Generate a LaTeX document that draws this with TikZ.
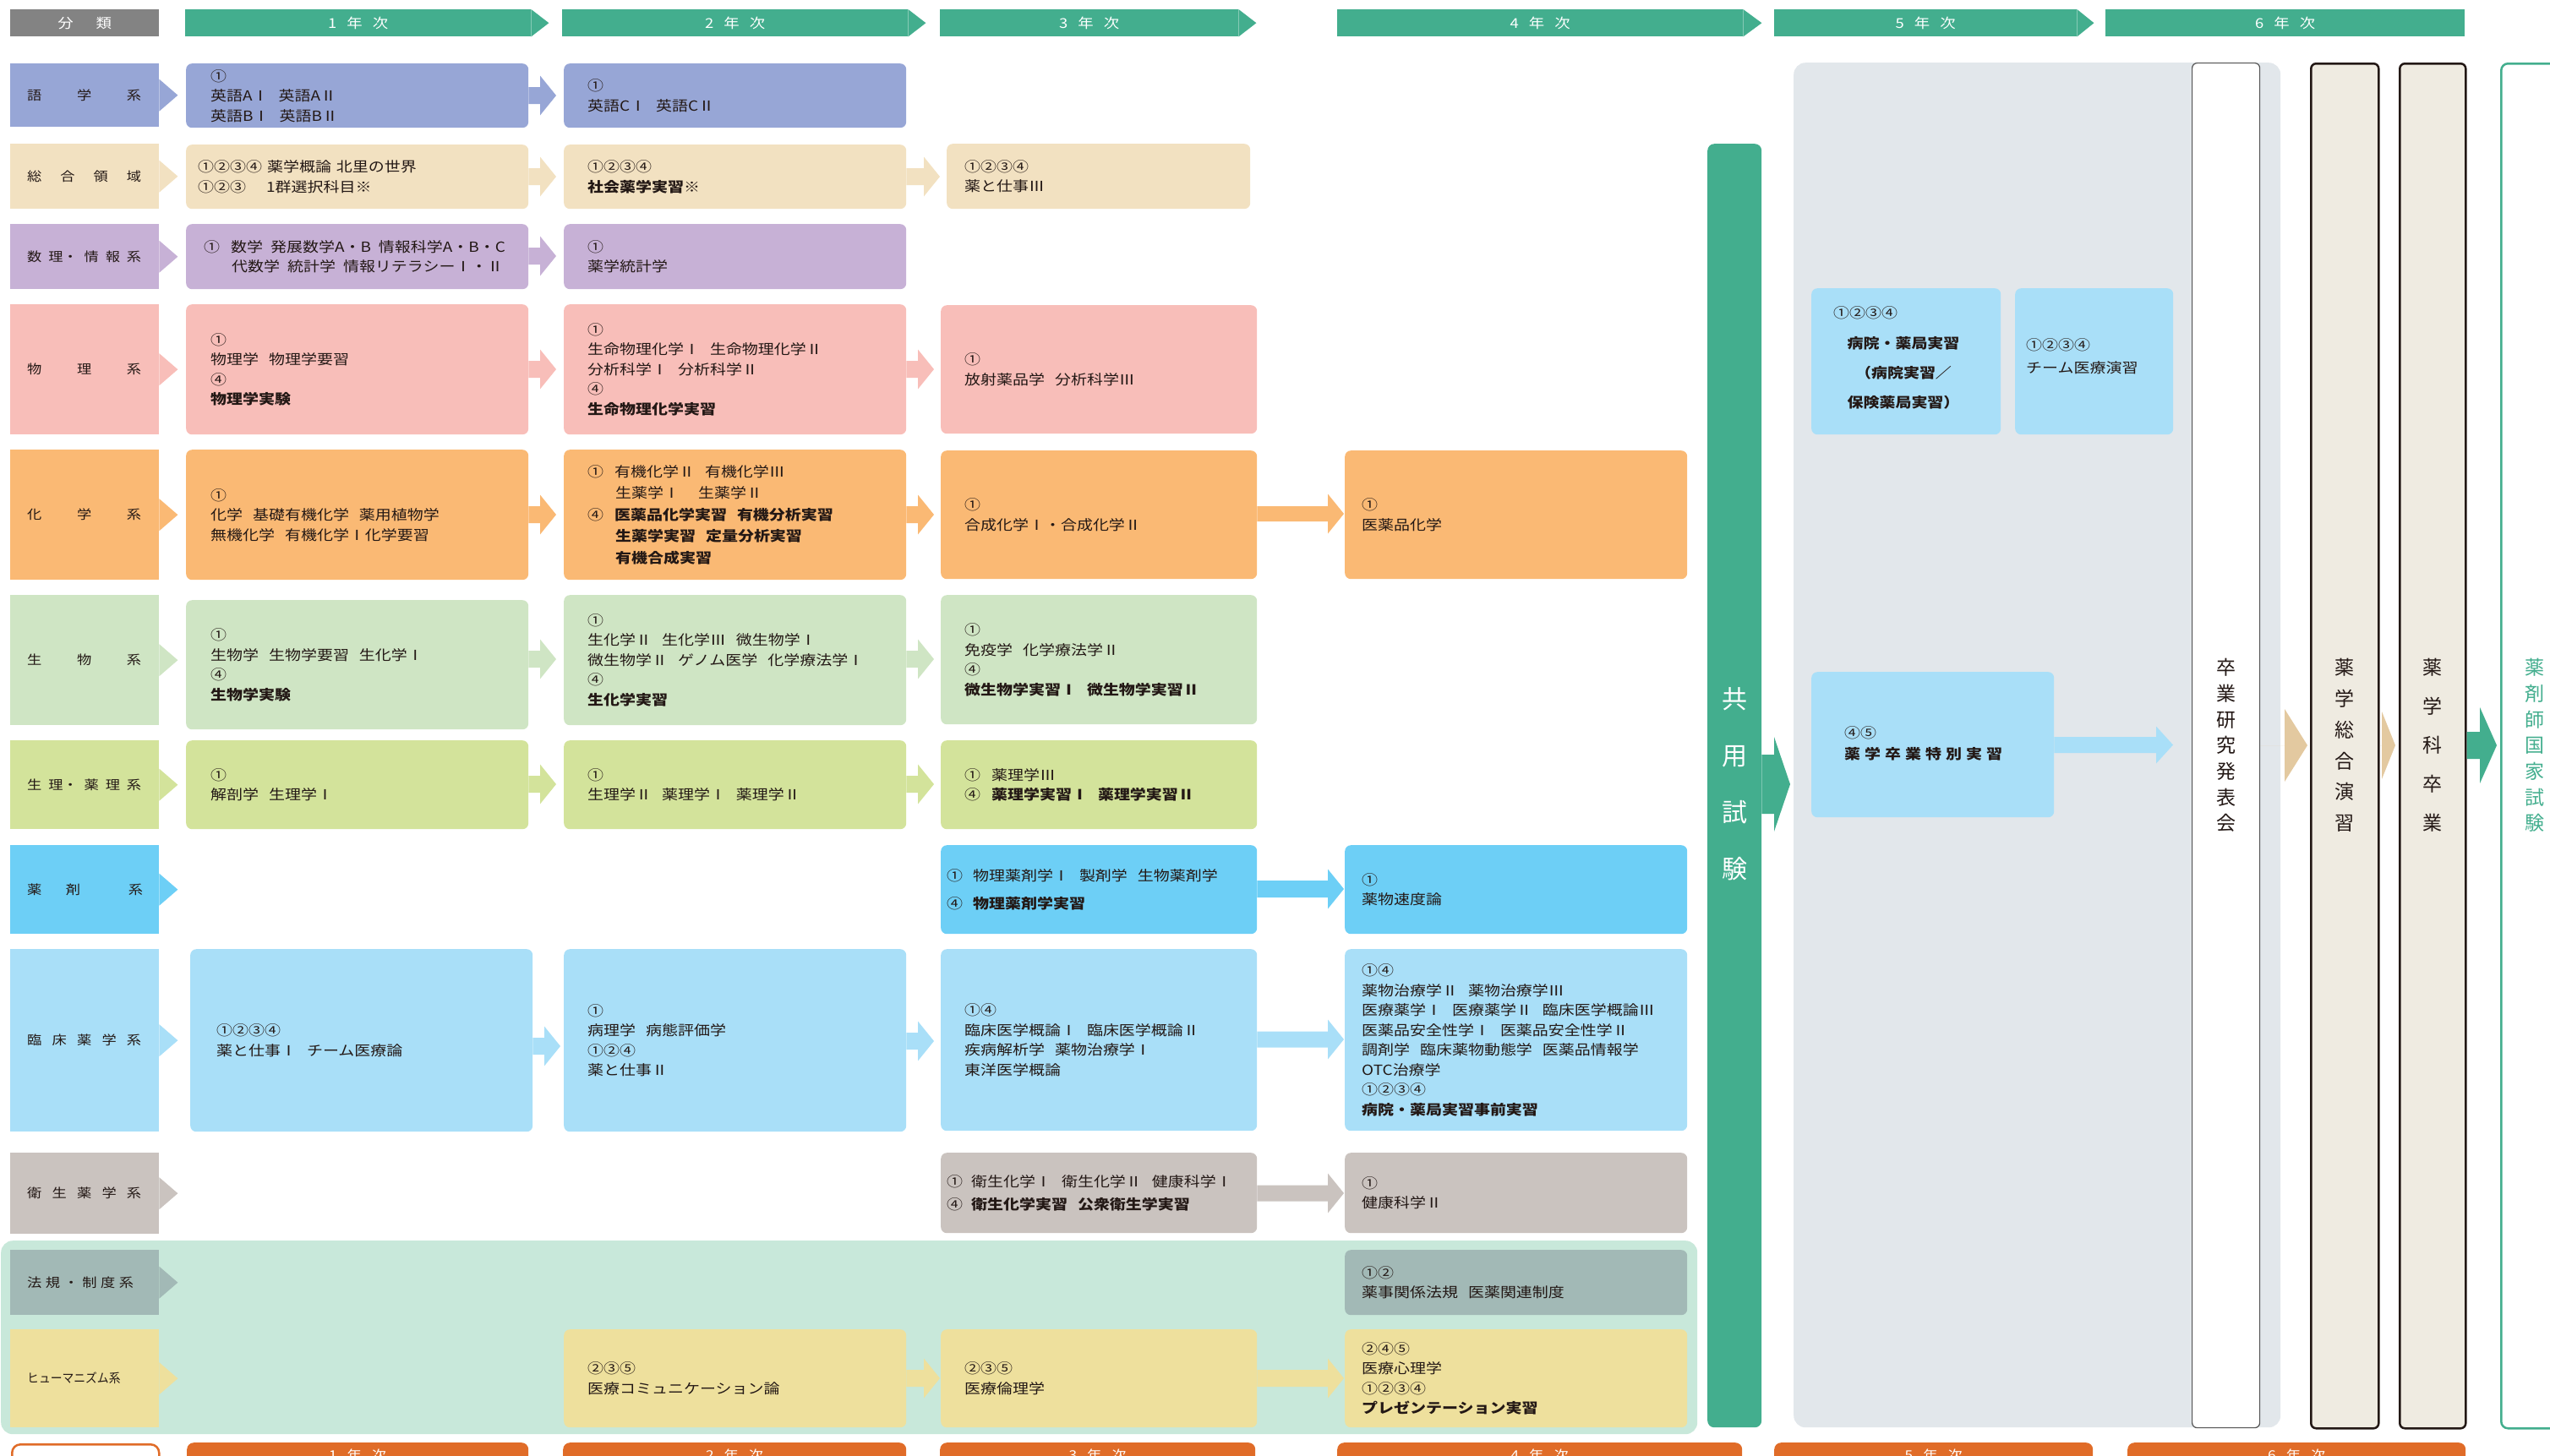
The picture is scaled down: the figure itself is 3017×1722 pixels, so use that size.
\documentclass[tikz,border=0pt]{standalone}
\usepackage{fontspec}
\usepackage{graphicx}
\setmainfont{Noto Sans CJK JP}[FakeStretch=1.15]
\newfontfamily\vjp{Noto Sans CJK JP}
\usetikzlibrary{calc}
\definecolor{txt}{HTML}{231815}
\definecolor{hgreen}{HTML}{43AE8E}
\definecolor{hgray}{HTML}{838383}
\definecolor{orng}{HTML}{E06C28}
\definecolor{cLang}{HTML}{97A6D6}
\definecolor{cGen}{HTML}{F2E1C1}
\definecolor{cMath}{HTML}{C7B1D6}
\definecolor{cPhys}{HTML}{F8BEB9}
\definecolor{cChem}{HTML}{FAB974}
\definecolor{cBio}{HTML}{CFE5C4}
\definecolor{cPhar}{HTML}{D3E39B}
\definecolor{cDrug}{HTML}{6DCFF6}
\definecolor{cClin}{HTML}{A9DFF8}
\definecolor{cHyg}{HTML}{CAC3BF}
\definecolor{cLaw}{HTML}{A2B9B6}
\definecolor{cHum}{HTML}{EEE09D}
\definecolor{gpanel}{HTML}{C8E8DA}
\definecolor{ybg}{HTML}{E2E7EB}
\definecolor{beig}{HTML}{EFEBE1}
\definecolor{sgray}{HTML}{555555}
\definecolor{tanarr}{HTML}{E3C9A0}

\newcommand\mkbox[7]{%
  \pgfmathsetmacro\bw{#5-#3}\pgfmathsetmacro\bh{#6-#4}%
  \node[#2, minimum width=\bw pt, minimum height=\bh pt, anchor=north west] (#1) at (#3,#4) {#7};}
\newcommand\course[8]{%
  \mkbox{#1}{cb, fill=#2}{#3}{#4}{#5}{#6}{}%
  \node[tx, anchor=west] (#1t) at ([xshift=#7pt]#1.west) {#8};}
\newcommand\cat[5]{%
  \mkbox{#1}{fill=#2, inner sep=0pt}{12}{#3}{188}{#4}{}%
  \fill[#2] ([yshift=19pt]#1.east) -- ([xshift=22pt]#1.east) -- ([yshift=-19pt]#1.east) -- cycle;
  \node[ctx, anchor=west] (#1t) at ([xshift=20pt]#1.west) {#5};}
% color, from, to, y, shaft half, head half, head length, gap
\newcommand\barrow[8]{%
  \fill[#1] let \p1=(#2.east), \p2=(#3.west), \p3=(0,#4) in
  (\x1,\y3+#5pt) -- (\x2-#8pt-#7pt,\y3+#5pt) -- (\x2-#8pt-#7pt,\y3+#6pt) -- (\x2-#8pt,\y3)
  -- (\x2-#8pt-#7pt,\y3-#6pt) -- (\x2-#8pt-#7pt,\y3-#5pt) -- (\x1,\y3-#5pt) -- cycle;}
\newcommand\arrA[5]{\barrow{#1}{#2}{#3}{#4}{10}{23.5}{19}{#5}}
\newcommand\gp{\hspace{12pt}}

\begin{document}
\begin{tikzpicture}[x=1pt,y=-1pt,
  cb/.style={rounded corners=7pt, inner sep=0pt},
  tx/.style={align=left, inner sep=0pt, text=txt, font=\fontsize{16.5}{23.5}\selectfont},
  ctx/.style={inner sep=0pt, text=txt, font=\fontsize{15}{18}\selectfont},
  hdr/.style={inner sep=0pt, text=white, font=\fontsize{16}{18}\selectfont},
  vt/.style={align=center, inner sep=0pt},
  bot/.style={fill=orng, text=white, rounded corners=8pt, inner sep=0pt, font=\fontsize{15}{18}\selectfont}]
\useasboundingbox (0,0) rectangle (3017,1722);
\clip (0,0) rectangle (3017,1722);

% background panels
\mkbox{gp}{fill=gpanel, rounded corners=14pt, inner sep=0pt}{1}{1468}{2008}{1697}{}
\mkbox{ybgbox}{fill=ybg, rounded corners=14pt, inner sep=0pt}{2122}{74}{2698}{1689}{}

% headers
\mkbox{h0}{hdr, fill=hgray}{12}{11}{188}{43}{分\hspace{27pt}類}
\mkbox{h1}{hdr, fill=hgreen}{219}{11}{628}{43}{1\hspace{12pt}年\hspace{12pt}次}
\fill[hgreen] (h1.north east) -- ([xshift=21pt]h1.east) -- (h1.south east) -- cycle;
\mkbox{h2}{hdr, fill=hgreen}{665}{11}{1074}{43}{2\hspace{12pt}年\hspace{12pt}次}
\fill[hgreen] (h2.north east) -- ([xshift=21pt]h2.east) -- (h2.south east) -- cycle;
\mkbox{h3}{hdr, fill=hgreen}{1112}{11}{1465}{43}{3\hspace{12pt}年\hspace{12pt}次}
\fill[hgreen] (h3.north east) -- ([xshift=21pt]h3.east) -- (h3.south east) -- cycle;
\mkbox{h4}{hdr, fill=hgreen}{1582}{11}{2062}{43}{4\hspace{12pt}年\hspace{12pt}次}
\fill[hgreen] (h4.north east) -- ([xshift=22pt]h4.east) -- (h4.south east) -- cycle;
\mkbox{h5}{hdr, fill=hgreen}{2099}{11}{2457}{43}{5\hspace{12pt}年\hspace{12pt}次}
\fill[hgreen] (h5.north east) -- ([xshift=20pt]h5.east) -- (h5.south east) -- cycle;
\mkbox{h6}{hdr, fill=hgreen}{2491}{11}{2916}{43}{6\hspace{12pt}年\hspace{12pt}次}

% categories
\cat{k1}{cLang}{75}{150}{\makebox[135pt]{語\hfill 学\hfill 系}}
\cat{k2}{cGen}{170}{247}{\makebox[135pt]{総\hfill 合\hfill 領\hfill 域}}
\cat{k3}{cMath}{265}{342}{\makebox[135pt]{数\hfill 理・\hfill 情\hfill 報\hfill 系}}
\cat{k4}{cPhys}{360}{514}{\makebox[135pt]{物\hfill 理\hfill 系}}
\cat{k5}{cChem}{532}{686}{\makebox[135pt]{化\hfill 学\hfill 系}}
\cat{k6}{cBio}{704}{858}{\makebox[135pt]{生\hfill 物\hfill 系}}
\cat{k7}{cPhar}{876}{981}{\makebox[135pt]{生\hfill 理・\hfill 薬\hfill 理\hfill 系}}
\cat{k8}{cDrug}{1000}{1105}{\makebox[137pt]{薬\hfill 剤\hfill\hfill 系}}
\cat{k9}{cClin}{1123}{1339}{\makebox[135pt]{臨\hfill 床\hfill 薬\hfill 学\hfill 系}}
\cat{k10}{cHyg}{1364}{1460}{\makebox[135pt]{衛\hfill 生\hfill 薬\hfill 学\hfill 系}}
\cat{k11}{cLaw}{1479}{1556}{\makebox[126pt]{法\hfill 規\hfill ・\hfill 制\hfill 度\hfill 系}}
\cat{k12}{cHum}{1573}{1689}{\scalebox{0.8}[1]{ヒューマニズム系}}

% row 1
\course{r1a}{cLang}{220}{75}{625}{151}{29}{①\\英語AⅠ\gp 英語AⅡ\\英語BⅠ\gp 英語BⅡ}
\course{r1b}{cLang}{667}{75}{1072}{151}{28}{①\\英語CⅠ\gp 英語CⅡ}
\arrA{cLang}{r1a}{r1b}{113}{9}
% row 2
\course{r2a}{cGen}{220}{171}{625}{247}{14}{①②③④\hspace{6pt}薬学概論\hspace{6pt}北里の世界\\①②③\hspace{24pt}1群選択科目※}
\course{r2b}{cGen}{667}{171}{1072}{247}{28}{①②③④\\\textbf{社会薬学実習※}}
\course{r2c}{cGen}{1120}{170}{1479}{247}{21}{①②③④\\薬と仕事Ⅲ}
\arrA{cGen}{r2a}{r2b}{209}{9}
\arrA{cGen}{r2b}{r2c}{209}{8}
% row 3
\course{r3a}{cMath}{220}{265}{625}{342}{21}{①\hspace{13pt}数学\hspace{9pt}発展数学A・B\hspace{9pt}情報科学A・B・C\\\hspace*{33pt}代数学\hspace{9pt}統計学\hspace{9pt}情報リテラシーⅠ・Ⅱ}
\course{r3b}{cMath}{667}{265}{1072}{342}{28}{①\\薬学統計学}
\arrA{cMath}{r3a}{r3b}{303}{9}
% row 4
\course{r4a}{cPhys}{220}{360}{625}{514}{29}{①\\物理学\gp 物理学要習\\④\\\textbf{物理学実験}}
\course{r4b}{cPhys}{667}{360}{1072}{514}{28}{①\\生命物理化学Ⅰ\gp 生命物理化学Ⅱ\\分析科学Ⅰ\gp 分析科学Ⅱ\\④\\\textbf{生命物理化学実習}}
\course{r4c}{cPhys}{1113}{361}{1487}{513}{28}{①\\放射薬品学\gp 分析科学Ⅲ}
\arrA{cPhys}{r4a}{r4b}{437}{9}
\arrA{cPhys}{r4b}{r4c}{437}{8}
% row 5
\course{r5a}{cChem}{220}{532}{625}{686}{29}{①\\化学\gp 基礎有機化学\gp 薬用植物学\\無機化学\gp 有機化学Ⅰ化学要習}
\course{r5b}{cChem}{667}{532}{1072}{686}{28}{①\hspace{13pt}有機化学Ⅱ\gp 有機化学Ⅲ\\[2pt]\hspace*{33pt}生薬学Ⅰ\hspace{22pt}生薬学Ⅱ\\[2pt]④\hspace{13pt}\textbf{医薬品化学実習\gp 有機分析実習}\\[2pt]\hspace*{33pt}\textbf{生薬学実習\gp 定量分析実習}\\[2pt]\hspace*{33pt}\textbf{有機合成実習}}
\course{r5c}{cChem}{1113}{533}{1487}{685}{28}{①\\合成化学Ⅰ・合成化学Ⅱ}
\course{r5d}{cChem}{1591}{533}{1996}{685}{20}{①\\医薬品化学}
\arrA{cChem}{r5a}{r5b}{609}{9}
\arrA{cChem}{r5b}{r5c}{609}{8}
\barrow{cChem}{r5c}{r5d}{608}{9}{23.5}{19}{1}
% row 6
\course{r6a}{cBio}{220}{710}{625}{863}{29}{①\\生物学\gp 生物学要習\gp 生化学Ⅰ\\④\\\textbf{生物学実験}}
\course{r6b}{cBio}{667}{704}{1072}{858}{28}{①\\生化学Ⅱ\gp 生化学Ⅲ\gp 微生物学Ⅰ\\微生物学Ⅱ\gp ゲノム医学\gp 化学療法学Ⅰ\\④\\\textbf{生化学実習}}
\course{r6c}{cBio}{1113}{704}{1487}{857}{28}{①\\免疫学\gp 化学療法学Ⅱ\\④\\\textbf{微生物学実習Ⅰ\gp 微生物学実習Ⅱ}}
\arrA{cBio}{r6a}{r6b}{780}{9}
\arrA{cBio}{r6b}{r6c}{780}{8}
% row 7
\course{r7a}{cPhar}{220}{876}{625}{981}{29}{①\\解剖学\gp 生理学Ⅰ}
\course{r7b}{cPhar}{667}{876}{1072}{981}{28}{①\\生理学Ⅱ\gp 薬理学Ⅰ\gp 薬理学Ⅱ}
\course{r7c}{cPhar}{1113}{876}{1487}{981}{28}{①\hspace{13pt}薬理学Ⅲ\\④\hspace{13pt}\textbf{薬理学実習Ⅰ\gp 薬理学実習Ⅱ}}
\arrA{cPhar}{r7a}{r7b}{928}{9}
\arrA{cPhar}{r7b}{r7c}{928}{8}
% row 8
\course{r8c}{cDrug}{1113}{1000}{1487}{1105}{7}{①\hspace{12pt}物理薬剤学Ⅰ\gp 製剤学\gp 生物薬剤学\\[10pt]④\hspace{12pt}\textbf{物理薬剤学実習}}
\course{r8d}{cDrug}{1591}{1000}{1996}{1105}{20}{①\\薬物速度論}
\barrow{cDrug}{r8c}{r8d}{1052}{10}{23.5}{19}{1}
% row 9
\course{r9a}{cClin}{225}{1123}{630}{1339}{31}{①②③④\\薬と仕事Ⅰ\gp チーム医療論}
\course{r9b}{cClin}{667}{1123}{1072}{1339}{28}{①\\病理学\gp 病態評価学\\①②④\\薬と仕事Ⅱ}
\course{r9c}{cClin}{1113}{1123}{1487}{1338}{28}{①④\\臨床医学概論Ⅰ\gp 臨床医学概論Ⅱ\\疾病解析学\gp 薬物治療学Ⅰ\\東洋医学概論}
\course{r9d}{cClin}{1591}{1123}{1996}{1338}{20}{①④\\薬物治療学Ⅱ\gp 薬物治療学Ⅲ\\医療薬学Ⅰ\gp 医療薬学Ⅱ\gp 臨床医学概論Ⅲ\\医薬品安全性学Ⅰ\gp 医薬品安全性学Ⅱ\\調剤学\gp 臨床薬物動態学\gp 医薬品情報学\\OTC治療学\\①②③④\\\textbf{病院・薬局実習事前実習}}
\arrA{cClin}{r9a}{r9b}{1238}{4}
\arrA{cClin}{r9b}{r9c}{1232}{8}
\barrow{cClin}{r9c}{r9d}{1230}{9.5}{23.5}{19}{1}
% row 10
\course{r10c}{cHyg}{1113}{1364}{1487}{1459}{7}{①\hspace{10pt}衛生化学Ⅰ\gp 衛生化学Ⅱ\gp 健康科学Ⅰ\\[3pt]④\hspace{10pt}\textbf{衛生化学実習\gp 公衆衛生学実習}}
\course{r10d}{cHyg}{1591}{1364}{1996}{1459}{20}{①\\健康科学Ⅱ}
\barrow{cHyg}{r10c}{r10d}{1412}{9.5}{23.5}{19}{1}
% row 11
\course{r11d}{cLaw}{1591}{1479}{1996}{1556}{20}{①②\\薬事関係法規\gp 医薬関連制度}
% row 12
\course{r12b}{cHum}{667}{1573}{1072}{1689}{28}{②③⑤\\医療コミュニケーション論}
\course{r12c}{cHum}{1113}{1573}{1487}{1689}{28}{②③⑤\\医療倫理学}
\course{r12d}{cHum}{1591}{1573}{1996}{1689}{20}{②④⑤\\医療心理学\\①②③④\\\textbf{プレゼンテーション実習}}
\barrow{cHum}{r12b}{r12c}{1631}{10}{23.5}{19}{1}
\barrow{cHum}{r12c}{r12d}{1631}{10}{23.5}{19}{1}

% common exam bar
\mkbox{kyo}{fill=hgreen, rounded corners=8pt, inner sep=0pt}{2020}{170}{2084}{1689}{}
\node[vt, text=white, font=\vjp\fontsize{30}{67}\selectfont] (kyot) at (kyo.center |- 0,928) {共\\用\\試\\験};
\barrow{hgreen}{kyo}{ybgbox}{928}{35}{56}{19}{4}

% year 5 boxes
\mkbox{p1}{cb, fill=cClin}{2143}{341}{2367}{514}{}
\node[tx, anchor=west] (p1a) at (2169,370) {①②③④};
\node[tx, align=center, font=\fontsize{16.5}{35}\selectfont] (p1b) at (2252,441) {\textbf{病院・薬局実習}\\\textbf{（病院実習／}\\\textbf{保険薬局実習）}};
\mkbox{p2}{cb, fill=cClin}{2384}{341}{2571}{514}{}
\node[tx, anchor=west, font=\fontsize{16.5}{27}\selectfont] (p2t) at ([xshift=13pt]p2.west |- 0,422) {①②③④\\チーム医療演習};
\mkbox{p3}{cb, fill=cClin}{2143}{795}{2430}{967}{}
\node[tx, anchor=west, font=\fontsize{16.5}{25}\selectfont] (p3t) at ([xshift=39pt]p3.west |- 0,880) {④⑤\\\textbf{薬\hspace{5pt}学\hspace{5pt}卒\hspace{5pt}業\hspace{5pt}特\hspace{5pt}別\hspace{5pt}実\hspace{5pt}習}};

% final columns
\mkbox{s1}{fill=white, draw=sgray, line width=1.2pt, rounded corners=6pt, inner sep=0pt}{2593}{74}{2673}{1689}{}
\mkbox{s2}{fill=beig, draw=txt, line width=2.5pt, rounded corners=6pt, inner sep=0pt}{2733}{74}{2813}{1689}{}
\mkbox{s3}{fill=beig, draw=txt, line width=2.5pt, rounded corners=6pt, inner sep=0pt}{2838}{74}{2916}{1689}{}
\mkbox{s4}{fill=white, draw=hgreen, line width=2.5pt, rounded corners=8pt, inner sep=0pt}{2958}{74}{3060}{1689}{}
\node[vt, text=txt, font=\vjp\fontsize{23}{30.7}\selectfont] (s1t) at (s1.center |- 0,882) {卒\\業\\研\\究\\発\\表\\会};
\node[vt, text=txt, font=\vjp\fontsize{23}{36.8}\selectfont] (s2t) at (s2.center |- 0,882) {薬\\学\\総\\合\\演\\習};
\node[vt, text=txt, font=\vjp\fontsize{23}{46}\selectfont] (s3t) at (s3.center |- 0,882) {薬\\学\\科\\卒\\業};
\node[vt, text=hgreen, font=\vjp\fontsize{23}{30.7}\selectfont] (s4t) at (2999,882) {薬\\剤\\師\\国\\家\\試\\験};

\barrow{cClin}{p3}{s1}{881.5}{9.5}{22}{20}{22}
\barrow{tanarr}{s1}{s2}{882}{0}{43}{27}{3}
\barrow{tanarr}{s2}{s3}{882}{0}{40}{16}{4}
\barrow{hgreen}{s3}{s4}{882}{16}{45}{20}{4}

% bottom bars
\mkbox{b0}{fill=white, draw=orng, line width=2.5pt, rounded corners=10pt, inner sep=0pt}{13}{1708}{187}{1745}{}
\mkbox{b1}{bot}{221}{1707}{625}{1737}{1\hspace{12pt}年\hspace{12pt}次}
\mkbox{b2}{bot}{666}{1707}{1072}{1737}{2\hspace{12pt}年\hspace{12pt}次}
\mkbox{b3}{bot}{1112}{1707}{1485}{1737}{3\hspace{12pt}年\hspace{12pt}次}
\mkbox{b4}{bot}{1582}{1707}{2061}{1737}{4\hspace{12pt}年\hspace{12pt}次}
\mkbox{b5}{bot}{2099}{1707}{2476}{1737}{5\hspace{12pt}年\hspace{12pt}次}
\mkbox{b6}{bot}{2517}{1707}{2917}{1737}{6\hspace{12pt}年\hspace{12pt}次}
\end{tikzpicture}
\end{document}
